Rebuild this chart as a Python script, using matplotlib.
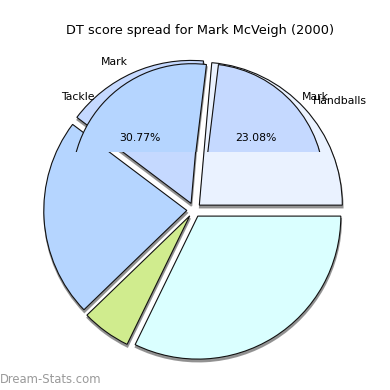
import matplotlib
matplotlib.use("Agg")
import matplotlib.pyplot as plt
from matplotlib.transforms import Bbox, TransformedBbox

# base pie (share of each slice)
base_labels = ["Handballs", "Mark", "", "", ""]
base_values = [85, 58, 81, 20, 116]
base_colors = ["#EAF2FF", "#C5D9FF", "#B5D5FF", "#D0EC8E", "#DAFFFF"]

# top layer pie (only the upper part is shown)
top_labels = ["Mark", "Tackle", ""]
top_values = [3, 4, 6]
top_colors = ["#C5D9FF", "#B5D5FF", "#DAFFFF"]

title = "DT score spread for Mark McVeigh (2000)"
watermark = "Dream-Stats.com"

W = 390
base_center = (194, W - 210)
top_center = (198, W - 189)
shadow_kw = {'ox': 0.3, 'oy': -1.8, 'facecolor': '#8c8c8c', 'edgecolor': '#8c8c8c',
             'linewidth': 1.2, 'alpha': 0.9}


def align_labels(texts, cx):
    # labels left of the centre are right-aligned
    for t in texts:
        if t.get_position()[0] < cx:
            t.set_ha('right')


fig = plt.figure(figsize=(3.9, 3.9), dpi=100)
ax = fig.add_axes([0, 0, 1, 1])

_, base_texts = ax.pie(base_values, labels=base_labels, colors=base_colors,
                       explode=[7.2] * len(base_values), startangle=0, counterclock=True,
                       center=base_center, radius=143, labeldistance=1.08,
                       shadow=shadow_kw,
                       wedgeprops={'edgecolor': '#111111', 'linewidth': 0.8},
                       textprops={'fontsize': 7.8})
align_labels(base_texts, base_center[0])

n_before = len(ax.patches)
wedges, texts, autotexts = ax.pie(
    top_values, labels=top_labels, colors=top_colors,
    explode=[8] * len(top_values), startangle=0, counterclock=True,
    center=top_center, radius=120, labeldistance=1.09,
    autopct='%.2f%%', pctdistance=0.58, shadow=shadow_kw,
    wedgeprops={'edgecolor': '#111111', 'linewidth': 0.8, 'zorder': 2.5},
    textprops={'fontsize': 7.8})
autotexts[-1].set_visible(False)
align_labels(texts, top_center[0])

# the upper layer only shows above this line
clip_box = TransformedBbox(Bbox.from_extents(0, W - 152, W, W), ax.transData)
for p in list(ax.patches)[n_before:]:
    p.set_clip_on(True)
    p.set_clip_path(None)
    p.set_clip_box(clip_box)

ax.set_xlim(0, W)
ax.set_ylim(0, W)
ax.set_aspect('equal')
ax.axis('off')

fig.text(0.512, 0.923, title, ha='center', va='center', fontsize=9.3)
fig.text(0.0, 0.026, watermark, ha='left', va='center', fontsize=8.4, color='#9a9a9a')

fig.savefig("out.png", dpi=100)
